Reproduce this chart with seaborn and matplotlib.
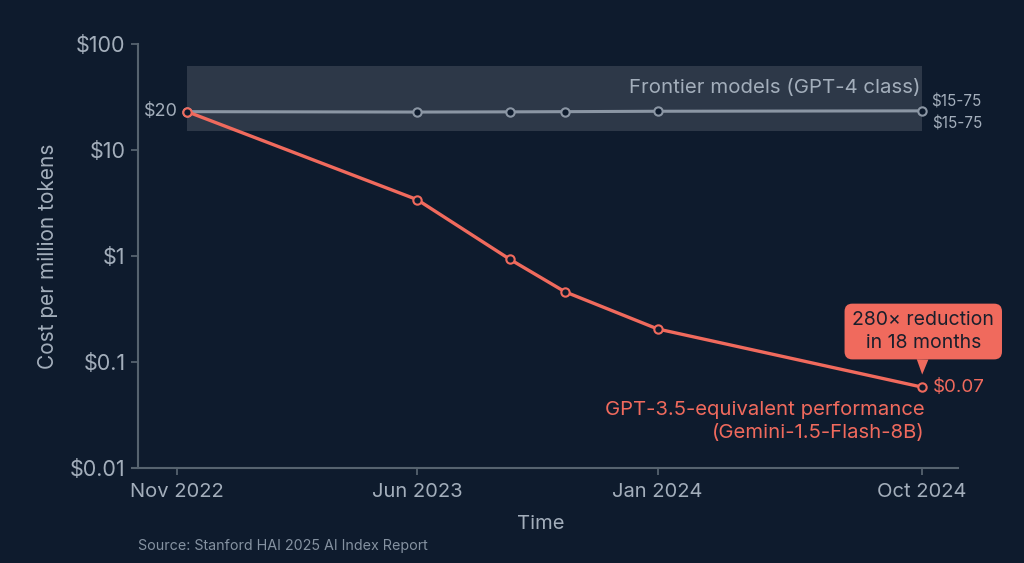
import numpy as np
import pandas as pd
import seaborn as sns
import matplotlib.pyplot as plt

# data (x = months since Nov 2022)
months = [0.3, 7, 9.7, 11.3, 14, 23]
gpt35_cost = [23, 3.4, 0.93, 0.46, 0.205, 0.058]
frontier_cost = [23, 22.8, 22.9, 23.0, 23.2, 23.4]
frontier_band = [15, 62]
tick_months = [0, 7, 14, 23]
tick_labels = ['Nov 2022', 'Jun 2023', 'Jan 2024', 'Oct 2024']
ytick_vals = [0.01, 0.1, 1, 10, 100]
ytick_labels = ['$0.01', '$0.1', '$1', '$10', '$100']

bg = '#0e1b2d'
red = '#f06a5d'
grey = '#8b96a4'
txt = '#a3aebb'
axis_col = '#56636f'

sns.set_style('dark', rc={'axes.facecolor': bg, 'figure.facecolor': bg})
plt.rcParams['font.family'] = ['Inter', 'DejaVu Sans']

fig = plt.figure(figsize=(10.24, 5.63), dpi=100)
ax = fig.add_axes([138 / 1024, 1 - 468 / 563, 820 / 1024, 424 / 563])

# x axis is compressed after Jan 2024 in the original
k = 0.855
def fwd(m):
    m = np.asarray(m, dtype=float)
    return np.where(m <= 14, m, 14 + (m - 14) * k)
def inv(u):
    u = np.asarray(u, dtype=float)
    return np.where(u <= 14, u, 14 + (u - 14) / k)
ax.set_xscale('function', functions=(fwd, inv))
ax.set_yscale('log')

# frontier band
ax.fill_between([months[0], months[-1]], frontier_band[0], frontier_band[1],
                color='white', alpha=0.13, lw=0, zorder=1)

df = pd.DataFrame({'month': months, 'gpt35': gpt35_cost, 'frontier': frontier_cost})
sns.lineplot(data=df, x='month', y='frontier', color=grey, lw=2.2, marker='o',
             markersize=6, markerfacecolor=bg, markeredgecolor=grey,
             markeredgewidth=1.5, ax=ax, zorder=3)
sns.lineplot(data=df, x='month', y='gpt35', color=red, lw=2.4, marker='o',
             markersize=6, markerfacecolor=bg, markeredgecolor=red,
             markeredgewidth=1.5, ax=ax, zorder=4)

ax.set_xlim(-1.13, 24.23)
ax.set_ylim(0.01, 100)
ax.set_xticks(tick_months)
ax.set_xticklabels(tick_labels)
ax.set_yticks(ytick_vals)
ax.set_yticklabels(ytick_labels)
ax.minorticks_off()
ax.grid(False)
ax.tick_params(colors=axis_col, labelcolor=txt, labelsize=14.5, length=5, width=1.3,
               bottom=True, left=True)
ax.tick_params(axis='y', labelsize=15.5, pad=4)
ax.tick_params(axis='x', pad=6)
for s in ['top', 'right']:
    ax.spines[s].set_visible(False)
for s in ['left', 'bottom']:
    ax.spines[s].set_visible(True)
    ax.spines[s].set_color(axis_col)
    ax.spines[s].set_linewidth(1.5)
ax.spines['bottom'].set_bounds(-1.3, 24.23)

ax.set_xlabel('Time', color=txt, fontsize=14.5)
ax.xaxis.set_label_coords(0.491, -0.11)
ax.set_ylabel('Cost per million tokens', color=txt, fontsize=15)
ax.yaxis.set_label_coords(-0.097, 0.5)

# annotations
ax.annotate('$20', xy=(months[0], gpt35_cost[0]), xytext=(-7, 0),
            textcoords='offset points', ha='right', va='center', color=txt, fontsize=13)
ax.annotate('Frontier models (GPT-4 class)', xy=(months[-1], frontier_band[1]),
            xytext=(-1, -16), textcoords='offset points', ha='right', va='center',
            color=txt, fontsize=14.7)
ax.annotate('$15-75', xy=(months[-1], frontier_cost[-1]), xytext=(7, 6.5),
            textcoords='offset points', ha='left', va='center', color=txt, fontsize=11)
ax.annotate('$15-75', xy=(months[-1], frontier_cost[-1]), xytext=(7.5, -9.5),
            textcoords='offset points', ha='left', va='center', color=txt, fontsize=11)
ax.annotate('$0.07', xy=(months[-1], gpt35_cost[-1]), xytext=(8, 0),
            textcoords='offset points', ha='left', va='center', color=red, fontsize=13.5)
ax.annotate('GPT-3.5-equivalent performance\n(Gemini-1.5-Flash-8B)',
            xy=(months[-1], gpt35_cost[-1]), xytext=(2, -10), textcoords='offset points',
            ha='right', va='top', multialignment='right', linespacing=1.35,
            color=red, fontsize=14.6)
ax.annotate('280× reduction\nin 18 months', xy=(months[-1], gpt35_cost[-1]),
            xytext=(1, 40), textcoords='offset points', ha='center', va='center',
            linespacing=1.3, color='#1a1f2c', fontsize=14,
            bbox=dict(boxstyle='round,pad=0.4,rounding_size=0.4', fc=red, ec='none'),
            arrowprops=dict(arrowstyle='wedge,tail_width=0.6,shrink_factor=0.5',
                            fc=red, ec='none', shrinkA=0, shrinkB=9))

fig.text(138 / 1024, 1 - 546 / 563, 'Source: Stanford HAI 2025 AI Index Report',
         color='#8592a1', fontsize=10.3, va='center', ha='left')

fig.savefig('out.png', dpi=100, facecolor=bg)
